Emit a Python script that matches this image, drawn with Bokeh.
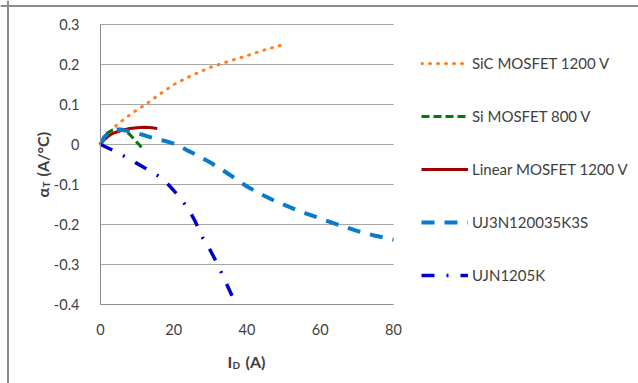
from bokeh.plotting import figure
from bokeh.models import Legend, LegendItem, Label, FixedTicker, Range1d, Span
from bokeh.embed import file_html
from bokeh.resources import INLINE
import math

# ---- data ----
sic_x = [0, 2, 4, 6, 8, 10, 12, 15, 20, 25, 30, 35, 40, 45, 50]
sic_y = [0, 0.02, 0.045, 0.06, 0.074, 0.087, 0.098, 0.118, 0.15, 0.173, 0.193, 0.208, 0.222, 0.237, 0.25]

si_x = [0, 1, 2, 3, 4, 5, 6, 7, 8, 9, 10, 11, 12]
si_y = [0, 0.02, 0.03, 0.035, 0.038, 0.039, 0.038, 0.033, 0.025, 0.015, 0.005, -0.005, -0.012]

lin_x = [0, 1, 2, 3, 4, 6, 8, 10, 12, 14, 15.5]
lin_y = [0, 0.012, 0.02, 0.026, 0.03, 0.036, 0.04, 0.042, 0.043, 0.042, 0.04]

uj3_x = [0, 1, 2, 3, 4, 5, 6, 8, 10, 12, 14, 16, 18, 20, 22, 24, 26, 28, 30, 33, 36, 40, 44, 48, 52, 56, 60, 65, 70, 75, 80]
uj3_y = [0, 0.018, 0.027, 0.032, 0.035, 0.036, 0.036, 0.033, 0.028, 0.023, 0.017, 0.012, 0.008, 0.002, -0.006, -0.016,
         -0.025, -0.035, -0.045, -0.062, -0.08, -0.105, -0.125, -0.143, -0.158, -0.172, -0.185, -0.201, -0.216, -0.228, -0.238]

ujn_x = [0, 4, 8, 12, 16, 18, 20, 22, 24, 26, 28, 30, 32, 34, 36, 37]
ujn_y = [0, -0.017, -0.037, -0.058, -0.08, -0.095, -0.115, -0.137, -0.16, -0.195, -0.235, -0.265, -0.3, -0.34, -0.38, -0.4]

series_names = ["SiC MOSFET 1200 V", "Si MOSFET 800 V", "Linear MOSFET 1200 V", "UJ3N120035K3S", "UJN1205K"]

x_ticks = [0, 20, 40, 60, 80]
y_ticks = [-0.4, -0.3, -0.2, -0.1, 0, 0.1, 0.2, 0.3]
y_tick_labels = ["-0.4", "-0.3", "-0.2", "-0.1", "0", "0.1", "0.2", "0.3"]
X_MIN, X_MAX = 0, 80
Y_MIN, Y_MAX = -0.4, 0.3

FONT = "Lato"
TXT = "#404040"
GRID = "#a6a6a6"

# canvas / plot-area layout (pixels)
W, H = 638, 383
PL, PT, PW, PH = 100, 24, 293, 280
sx = PW / (X_MAX - X_MIN)
sy = PH / (Y_MAX - Y_MIN)
x_range = Range1d(X_MIN - PL / sx, X_MAX + (W - PL - PW) / sx)
y_range = Range1d(Y_MIN - (H - PT - PH) / sy, Y_MAX + PT / sy)

p = figure(width=W, height=H, output_backend="svg", toolbar_location=None,
           x_range=x_range, y_range=y_range,
           min_border_left=0, min_border_top=0, min_border_right=0, min_border_bottom=0)
p.outline_line_color = None
p.background_fill_color = "white"
p.border_fill_color = "white"

p.xgrid.grid_line_color = None
p.ygrid.ticker = FixedTicker(ticks=y_ticks)
if "cross_bounds" in p.ygrid.properties():
    p.ygrid.grid_line_color = GRID
    p.ygrid.grid_line_width = 1
    p.ygrid.cross_bounds = (X_MIN, X_MAX)
else:
    p.ygrid.grid_line_color = None
    p.segment(x0=[X_MIN] * len(y_ticks), x1=[X_MAX] * len(y_ticks), y0=y_ticks, y1=y_ticks,
              line_color=GRID, line_width=1, level="underlay")

p.xaxis.ticker = FixedTicker(ticks=x_ticks)
p.yaxis.ticker = FixedTicker(ticks=y_ticks)
p.yaxis.major_label_overrides = {v: s for v, s in zip(y_ticks, y_tick_labels)}
p.xaxis.major_label_overrides = {v: str(v) for v in x_ticks}
p.xaxis.fixed_location = Y_MIN
p.yaxis.fixed_location = X_MIN
p.xaxis.bounds = (X_MIN, X_MAX)
p.yaxis.bounds = (Y_MIN, Y_MAX)
for ax in (p.xaxis, p.yaxis):
    ax.axis_line_color = "#8c8c8c"
    ax.axis_line_width = 1
    ax.major_tick_line_color = None
    ax.minor_tick_line_color = None
    ax.major_label_text_font = FONT
    ax.major_label_text_font_size = "14.5px"
    ax.major_label_text_color = TXT
p.yaxis.major_label_standoff = 15
p.xaxis.major_label_standoff = 13

r1 = p.line(sic_x, sic_y, line_color="#ff7f27", line_width=3, line_dash="1 7", line_cap="round")
r2 = p.line(si_x, si_y, line_color="#007a0a", line_width=3, line_dash="8 4")
r3 = p.line(lin_x, lin_y, line_color="#a00000", line_width=3)
r4 = p.line(uj3_x, uj3_y, line_color="#0a7acc", line_width=4, line_dash="13 10")
r5 = p.line(ujn_x, ujn_y, line_color="#0000cc", line_width=3.5, line_dash="13 12 2 12")

legend = Legend(items=[LegendItem(label=n, renderers=[r]) for n, r in zip(series_names, [r1, r2, r3, r4, r5])],
                location=(421, 98), orientation="vertical",
                glyph_width=47, glyph_height=20, label_height=20, spacing=33,
                label_standoff=4, padding=0, margin=0,
                border_line_color=None, background_fill_alpha=0,
                label_text_font=FONT, label_text_font_size="15px", label_text_color=TXT)
p.add_layout(legend, "center")

# outer chart border (top & left visible)
p.add_layout(Span(location=H - 5.5, location_units="screen", dimension="width", line_color="#8c8c8c", line_width=2))
p.add_layout(Span(location=7.5, location_units="screen", dimension="height", line_color="#8c8c8c", line_width=2))

# y axis title: alpha_T (A/°C)
p.add_layout(Label(x=42, y=186, x_units="screen", y_units="screen", text="α", angle=math.pi / 2,
                   text_font=FONT, text_font_style="bold", text_font_size="16px", text_color=TXT,
                   text_align="left", text_baseline="alphabetic"))
p.add_layout(Label(x=45, y=196, x_units="screen", y_units="screen", text="T", angle=math.pi / 2,
                   text_font=FONT, text_font_style="bold", text_font_size="10px", text_color=TXT,
                   text_align="left", text_baseline="alphabetic"))
p.add_layout(Label(x=42, y=207, x_units="screen", y_units="screen", text="(A/°C)", angle=math.pi / 2,
                   text_font=FONT, text_font_style="bold", text_font_size="16px", text_color=TXT,
                   text_align="left", text_baseline="alphabetic"))

# x axis title: I_D (A)
p.add_layout(Label(x=227, y=22, x_units="screen", y_units="screen", text="I",
                   text_font=FONT, text_font_style="bold", text_font_size="16px", text_color=TXT,
                   text_align="left", text_baseline="alphabetic"))
p.add_layout(Label(x=232, y=19, x_units="screen", y_units="screen", text="D",
                   text_font=FONT, text_font_style="bold", text_font_size="10px", text_color=TXT,
                   text_align="left", text_baseline="alphabetic"))
p.add_layout(Label(x=245, y=22, x_units="screen", y_units="screen", text="(A)",
                   text_font=FONT, text_font_style="bold", text_font_size="16px", text_color=TXT,
                   text_align="left", text_baseline="alphabetic"))

open("out.html", "w").write(file_html(p, INLINE))
